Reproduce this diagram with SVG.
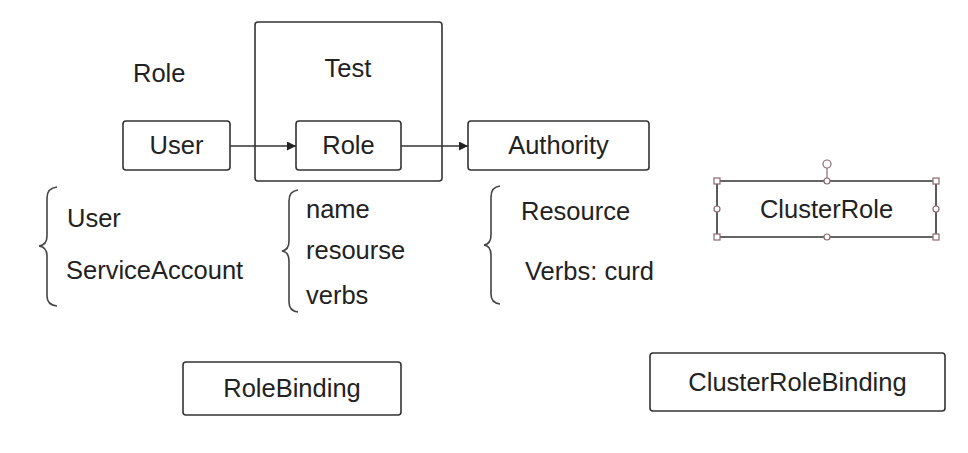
<svg xmlns="http://www.w3.org/2000/svg" width="968" height="453" viewBox="0 0 968 453">
<defs>
<style>
.box{fill:#fff;stroke:#333;stroke-width:1.6}
.t{font-family:"Liberation Sans",Arial,sans-serif;font-size:25.5px;fill:#222}
.c{text-anchor:middle}
.br{fill:none;stroke:#444;stroke-width:1.6}
.edge{fill:none;stroke:#333;stroke-width:1.5}
.h{fill:#fff;stroke:#8a6a70;stroke-width:1.2}
</style>
<marker id="ah" viewBox="0 0 10 10" refX="10" refY="5" markerWidth="12" markerHeight="9" markerUnits="userSpaceOnUse" orient="auto"><path d="M0,0 L10,5 L0,10 z" fill="#222"/></marker>
</defs>
<rect width="968" height="453" fill="#fff"/>
<text class="t" x="133" y="82">Role</text>
<g id="test"><rect class="box" x="255" y="22" width="187" height="159" rx="3"/><text class="t c" x="348" y="77">Test</text></g>
<g id="user"><rect class="box" x="123" y="121" width="107" height="49" rx="3"/><text class="t c" x="176.5" y="154">User</text></g>
<g id="role"><rect class="box" x="296" y="121" width="105" height="49" rx="3"/><text class="t c" x="348.5" y="154">Role</text></g>
<g id="authority"><rect class="box" x="468" y="121" width="181" height="49" rx="3"/><text class="t c" x="558.5" y="154">Authority</text></g>
<g id="connectors">
<line class="edge" x1="230" y1="146" x2="296" y2="146" marker-end="url(#ah)"/>
<line class="edge" x1="401" y1="146" x2="468" y2="146" marker-end="url(#ah)"/>
</g>
<g id="subjects">
<path class="br" d="M57,187 Q47,188 47,198 L47,236 Q47,245 39,246 Q47,247 47,256 L47,296 Q47,305 57,306"/>
<text class="t" x="67" y="227">User</text>
<text class="t" x="66" y="279">ServiceAccount</text>
</g>
<g id="role-attrs">
<path class="br" d="M298,190 Q289,191 289,201 L289,241 Q289,250 282,251 Q289,252 289,261 L289,302 Q289,311 298,312"/>
<text class="t" x="306" y="218">name</text>
<text class="t" x="306" y="259">resourse</text>
<text class="t" x="306" y="304">verbs</text>
</g>
<g id="authority-attrs">
<path class="br" d="M500,186 Q491,187 491,197 L491,235 Q491,244 484,245 Q491,246 491,255 L491,294 Q491,303 500,304"/>
<text class="t" x="521" y="220">Resource</text>
<text class="t" x="525" y="280">Verbs: curd</text>
</g>
<g id="clusterrole">
<rect class="box" x="717" y="181" width="219" height="56" rx="1"/>
<line x1="827" y1="168" x2="827" y2="181" stroke="#8a6a70" stroke-width="1.2"/>
<circle class="h" cx="827" cy="164" r="4"/>
<rect class="h" x="714" y="178" width="6" height="6"/>
<rect class="h" x="933" y="178" width="6" height="6"/>
<rect class="h" x="714" y="234" width="6" height="6"/>
<rect class="h" x="933" y="234" width="6" height="6"/>
<circle class="h" cx="827" cy="181" r="3"/>
<circle class="h" cx="827" cy="237" r="3"/>
<circle class="h" cx="717" cy="209" r="3"/>
<circle class="h" cx="936" cy="209" r="3"/>
<text class="t c" x="826.5" y="218">ClusterRole</text>
</g>
<g id="rolebinding"><rect class="box" x="183" y="362" width="218" height="53" rx="3"/><text class="t c" x="292" y="397">RoleBinding</text></g>
<g id="clusterrolebinding"><rect class="box" x="650" y="353" width="295" height="58" rx="3"/><text class="t c" x="797.5" y="391">ClusterRoleBinding</text></g>
</svg>
